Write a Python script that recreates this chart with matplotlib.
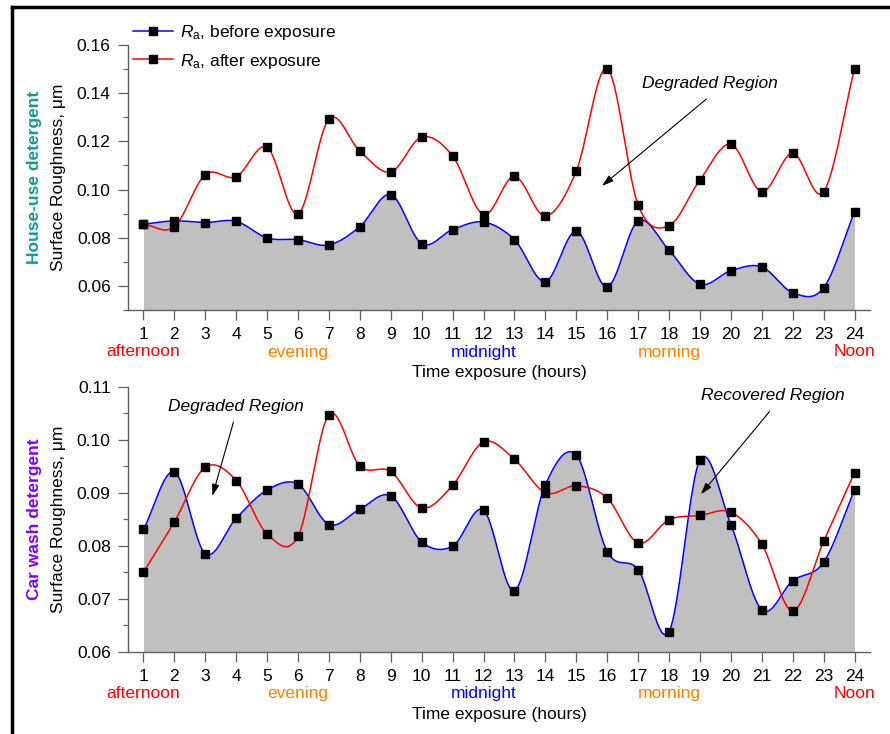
import numpy as np
import matplotlib
matplotlib.use("Agg")
import matplotlib.pyplot as plt
from matplotlib.lines import Line2D
from matplotlib.ticker import MultipleLocator, FormatStrFormatter
import matplotlib.transforms as mtransforms

plt.rcParams['font.family'] = ['Liberation Sans', 'DejaVu Sans']
plt.rcParams['mathtext.fontset'] = 'custom'
plt.rcParams['mathtext.rm'] = 'Liberation Sans'
plt.rcParams['mathtext.it'] = 'Liberation Sans:italic'

# data
hours = list(range(1, 25))
house_before = [0.0856, 0.0870, 0.0863, 0.0868, 0.0799, 0.0792, 0.0770, 0.0846,
                0.0979, 0.0775, 0.0834, 0.0865, 0.0792, 0.0618, 0.0827, 0.0596,
                0.0870, 0.0748, 0.0607, 0.0663, 0.0679, 0.0572, 0.0592, 0.0908]
house_after = [0.0856, 0.0846, 0.1062, 0.1053, 0.1175, 0.0899, 0.1293, 0.1159,
               0.1073, 0.1218, 0.1139, 0.0896, 0.1055, 0.0890, 0.1077, 0.1502,
               0.0936, 0.0850, 0.1040, 0.1188, 0.0991, 0.1151, 0.0991, 0.1502]
car_before = [0.0831, 0.0939, 0.0785, 0.0852, 0.0905, 0.0916, 0.0840, 0.0869,
              0.0894, 0.0807, 0.0799, 0.0867, 0.0715, 0.0915, 0.0971, 0.0789,
              0.0755, 0.0638, 0.0962, 0.0840, 0.0679, 0.0734, 0.0769, 0.0905]
car_after = [0.0750, 0.0845, 0.0948, 0.0923, 0.0822, 0.0818, 0.1047, 0.0950,
             0.0940, 0.0871, 0.0914, 0.0996, 0.0963, 0.0900, 0.0913, 0.0890,
             0.0805, 0.0849, 0.0857, 0.0863, 0.0803, 0.0677, 0.0808, 0.0938]

periods = ['afternoon', 'evening', 'midnight', 'morning', 'Noon']
period_hours = [1, 6, 12, 18, 24]
period_colors = ['#FF0000', '#FF8000', '#0000FF', '#FF8000', '#FF0000']


def spline(x, y, n=40):
    # Catmull-Rom style cubic through the points, secant slopes at the ends
    x = np.asarray(x, float)
    y = np.asarray(y, float)
    m = np.empty_like(y)
    m[1:-1] = (y[2:] - y[:-2]) / (x[2:] - x[:-2])
    m[0] = (y[1] - y[0]) / (x[1] - x[0])
    m[-1] = (y[-1] - y[-2]) / (x[-1] - x[-2])
    xs_all, ys_all = [], []
    for i in range(len(x) - 1):
        h = x[i + 1] - x[i]
        t = np.linspace(0, 1, n, endpoint=(i == len(x) - 2))
        h00 = 2 * t ** 3 - 3 * t ** 2 + 1
        h10 = t ** 3 - 2 * t ** 2 + t
        h01 = -2 * t ** 3 + 3 * t ** 2
        h11 = t ** 3 - t ** 2
        xs_all.append(x[i] + t * h)
        ys_all.append(h00 * y[i] + h10 * h * m[i] + h01 * y[i + 1] + h11 * h * m[i + 1])
    return np.concatenate(xs_all), np.concatenate(ys_all)


fig = plt.figure(figsize=(8.9, 7.34), dpi=100)
W, H = 890, 734


def make_axes(top, bottom):
    return fig.add_axes([128 / W, 1 - bottom / H, 742 / W, (bottom - top) / H])


ax1 = make_axes(45, 310)
ax2 = make_axes(386.7, 651.7)

spine_col = '#606060'


def draw_panel(ax, before, after, ylo, yhi, major, side_label, side_color):
    xs, yb = spline(hours, before)
    ax.fill_between(xs, yb, ylo, color='#C0C0C0', lw=0, zorder=1)
    ax.plot(xs, yb, color='#0000FF', lw=1.1, zorder=2)
    xs, ya = spline(hours, after)
    ax.plot(xs, ya, color='#FF0000', lw=1.1, zorder=3)
    ax.plot(hours, before, 's', color='k', ms=5.5, zorder=4)
    ax.plot(hours, after, 's', color='k', ms=5.5, zorder=4)

    ax.set_xlim(0.5, 24.5)
    ax.set_ylim(ylo, yhi)
    ax.set_xticks(hours)
    ax.yaxis.set_major_locator(MultipleLocator(major))
    ax.yaxis.set_minor_locator(MultipleLocator(major / 2))
    ax.yaxis.set_major_formatter(FormatStrFormatter('%.2f'))
    for s in ['top', 'right']:
        ax.spines[s].set_visible(False)
    for s in ['left', 'bottom']:
        ax.spines[s].set_color(spine_col)
        ax.spines[s].set_linewidth(1.0)
    ax.tick_params(axis='both', which='major', direction='out', length=7.5,
                   width=0.9, color=spine_col, labelsize=12.5, pad=5)
    ax.tick_params(axis='y', which='minor', direction='out', length=3.5,
                   width=0.9, color=spine_col)
    ax.patch.set_alpha(0)

    tr = mtransforms.blended_transform_factory(ax.transData, ax.transAxes)
    for name, hx, c in zip(periods, period_hours, period_colors):
        ax.text(hx, -42 / 265, name, color=c, fontsize=12.5, ha='center',
                va='center', transform=tr)
    ax.text(0.5, -63 / 265, 'Time exposure (hours)', fontsize=12.5,
            ha='center', va='center', transform=ax.transAxes)
    ax.text(-70 / 742, 0.5, 'Surface Roughness, \u03bcm', fontsize=12.5,
            rotation=90, ha='center', va='center', transform=ax.transAxes)
    ax.text(-94 / 742, 0.5, side_label, fontsize=12.5, fontweight='bold',
            color=side_color, rotation=90, ha='center', va='center',
            transform=ax.transAxes)


draw_panel(ax1, house_before, house_after, 0.05, 0.16, 0.02,
           'House-use detergent', '#139A8F')
draw_panel(ax2, car_before, car_after, 0.06, 0.11, 0.01,
           'Car wash detergent', '#8000FF')

arrow = dict(arrowstyle='-|>,head_length=0.7,head_width=0.22', lw=0.8,
             color='black', shrinkA=0, shrinkB=0)
ax1.annotate('', xy=(15.83, 0.1015), xytext=(19.21, 0.1376), arrowprops=arrow)
ax1.text(19.32, 0.1442, 'Degraded Region', fontsize=12.5, style='italic',
         ha='center', va='center')
ax2.annotate('', xy=(3.23, 0.0894), xytext=(3.91, 0.1033), arrowprops=arrow)
ax2.text(4.0, 0.1062, 'Degraded Region', fontsize=12.5, style='italic',
         ha='center', va='center')
ax2.annotate('', xy=(19.03, 0.0897), xytext=(21.25, 0.1053), arrowprops=arrow)
ax2.text(21.36, 0.1084, 'Recovered Region', fontsize=12.5, style='italic',
         ha='center', va='center')

handles = [Line2D([], [], color='#0000FF', lw=1.1, marker='s', mfc='k', mec='k', ms=5.5),
           Line2D([], [], color='#FF0000', lw=1.1, marker='s', mfc='k', mec='k', ms=5.5)]
labels = [r'$\mathit{R}_\mathrm{a}$, before exposure',
          r'$\mathit{R}_\mathrm{a}$, after exposure']
fig.legend(handles, labels, loc='upper left', bbox_to_anchor=(133 / W, 1 - 23 / H),
           frameon=False, fontsize=12.5, borderpad=0, borderaxespad=0,
           handlelength=2.3, handletextpad=0.4, labelspacing=0.55, numpoints=1)

# outer frame, running off the right and bottom edges
fig.add_artist(Line2D([12 / W, 12 / W], [0, 1 - 7 / H], color='k', lw=2.5,
                      transform=fig.transFigure))
fig.add_artist(Line2D([12 / W, 1], [1 - 7 / H, 1 - 7 / H], color='k', lw=2.5,
                      transform=fig.transFigure))

fig.savefig('out.png', dpi=100)
